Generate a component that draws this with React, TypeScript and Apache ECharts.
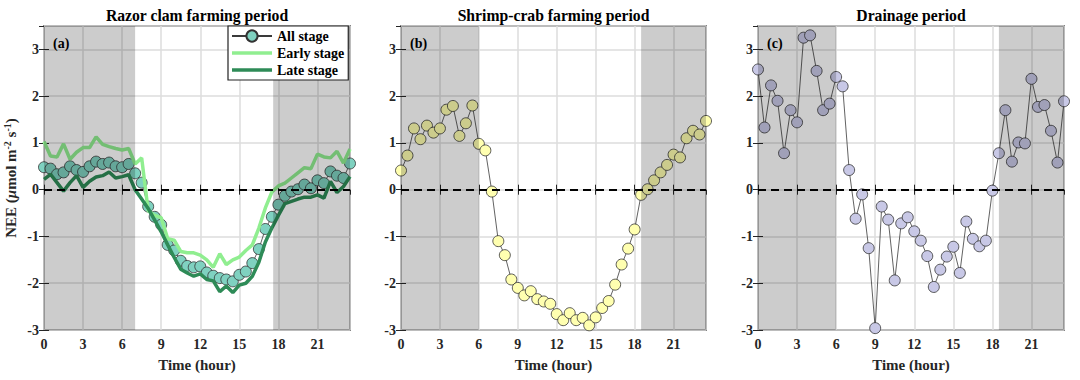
import React, { useEffect, useRef } from 'react';
import * as echarts from 'echarts';

const hours = [0, 0.5, 1, 1.5, 2, 2.5, 3, 3.5, 4, 4.5, 5, 5.5, 6, 6.5, 7, 7.5, 8, 8.5, 9, 9.5, 10, 10.5, 11, 11.5,
  12, 12.5, 13, 13.5, 14, 14.5, 15, 15.5, 16, 16.5, 17, 17.5, 18, 18.5, 19, 19.5, 20, 20.5, 21, 21.5, 22, 22.5, 23, 23.5];

const xTickLabels = [0, 3, 6, 9, 12, 15, 18, 21];
const yTickLabels = [-3, -2, -1, 0, 1, 2, 3];

const allA = [0.48, 0.45, 0.33, 0.37, 0.5, 0.42, 0.38, 0.5, 0.6, 0.55, 0.58, 0.5, 0.48, 0.55,
  0.35, 0.15, -0.36, -0.58, -0.75, -1.18, -1.3, -1.52, -1.63, -1.66,
  -1.64, -1.77, -1.84, -1.89, -1.92, -1.96, -1.82, -1.75, -1.57, -1.27, -0.84, -0.58,
  -0.32, -0.13, -0.04, 0.01, 0.11, 0.03, 0.2, 0.14, 0.39, 0.3, 0.25, 0.56];
const earlyA = [1.03, 0.72, 0.7, 0.98, 0.65, 0.8, 0.9, 0.9, 1.13, 0.97, 0.92, 0.88, 0.85, 0.88,
  0.55, 0.68, -0.45, -0.55, -0.6, -1.05, -1.08, -1.32, -1.35, -1.35,
  -1.4, -1.5, -1.66, -1.37, -1.6, -1.5, -1.44, -1.3, -1.18, -0.82, -0.39, -0.05,
  0.08, 0.14, 0.25, 0.36, 0.47, 0.45, 0.76, 0.7, 0.68, 0.82, 0.57, 0.87];
const lateA = [0.22, 0.33, 0.15, -0.03, 0.15, 0.3, 0.05, 0.18, 0.27, 0.3, 0.38, 0.25, 0.28, 0.32,
  0.0, -0.2, -0.4, -0.65, -0.9, -1.18, -1.45, -1.7, -1.78, -1.85,
  -1.8, -1.92, -1.95, -2.18, -2.06, -2.2, -2.04, -2.0, -1.85, -1.55, -1.12, -0.82,
  -0.55, -0.3, -0.25, -0.2, -0.16, -0.16, -0.11, -0.18, 0.18, -0.06, 0.07, 0.28];
const allB = [0.41, 0.73, 1.31, 1.08, 1.37, 1.22, 1.31, 1.71, 1.79, 1.15, 1.42, 1.8, 0.98, 0.84,
  -0.04, -1.1, -1.4, -1.92, -2.1, -2.26, -2.17, -2.34, -2.39, -2.44,
  -2.66, -2.79, -2.64, -2.79, -2.74, -2.9, -2.73, -2.53, -2.38, -2.03, -1.6, -1.26,
  -0.85, -0.11, 0.01, 0.2, 0.37, 0.53, 0.75, 0.69, 1.1, 1.26, 1.18, 1.47];
const allC = [2.57, 1.33, 2.23, 1.9, 0.78, 1.7, 1.44, 3.25, 3.3, 2.54, 1.7, 1.84, 2.41, 2.21,
  0.42, -0.62, -0.1, -1.25, -2.96, -0.36, -0.64, -1.94, -0.72, -0.59,
  -0.89, -1.09, -1.42, -2.08, -1.71, -1.43, -1.22, -1.78, -0.68, -1.05, -1.21, -1.09,
  -0.02, 0.78, 1.7, 0.6, 1.01, 0.99, 2.37, 1.77, 1.81, 1.26, 0.58, 1.89];

const nightA = [[0, 7], [17.6, 23.5]];
const nightB = [[0, 6], [18.5, 23.5]];
const nightC = [[0, 6], [18.5, 23.5]];

const panelTitles = ['Razor clam farming period', 'Shrimp-crab farming period', 'Drainage period'];
const panelLetters = ['(a)', '(b)', '(c)'];
const legendNames = ['All stage', 'Early stage', 'Late stage'];

const FONT = '"Liberation Serif", "Times New Roman", serif';
const INK = '#262626';
const X_MIN = 0, X_MAX = 23.5, Y_MIN = -3, Y_MAX = 3.5;
const BAR_ICON = 'path://M0,0H80V7H0Z';

const grids = [
  { left: 44, top: 26, width: 306, height: 304 },
  { left: 401, top: 26, width: 305, height: 304 },
  { left: 758, top: 26, width: 306, height: 304 },
];

const pair = (ys: number[]) => hours.map((h, i) => [h, ys[i]]);

export default function App() {
  const ref = useRef<HTMLDivElement>(null);
  useEffect(() => {
    if (!ref.current) return;
    const chart = echarts.init(ref.current, undefined, { renderer: 'svg' });

    const xAxes: any[] = [];
    const yAxes: any[] = [];
    grids.forEach((_, i) => {
      xAxes.push({
        gridIndex: i, type: 'value', min: X_MIN, max: X_MAX, interval: 3, position: 'bottom',
        name: 'Time (hour)', nameLocation: 'middle', nameGap: 27,
        nameTextStyle: { fontFamily: FONT, fontWeight: 'bold', fontSize: 15, color: INK },
        axisLine: { show: false },
        axisTick: { show: true, inside: true, length: 5, lineStyle: { color: INK, width: 1 } },
        axisLabel: {
          fontFamily: FONT, fontWeight: 'bold', fontSize: 14, color: INK, margin: 7, showMaxLabel: false,
          formatter: (v: number) => (xTickLabels.includes(v) ? String(v) : ''),
        },
        splitLine: { show: true, lineStyle: { color: '#dcdcdc', width: 1.5 } },
      });
    });
    grids.forEach((_, i) => {
      xAxes.push({
        gridIndex: i, type: 'value', min: X_MIN, max: X_MAX, interval: 3, position: 'top',
        axisLine: { show: false },
        axisTick: { show: true, inside: true, length: 5, lineStyle: { color: INK, width: 1 } },
        axisLabel: { show: false }, splitLine: { show: false },
      });
    });
    grids.forEach((_, i) => {
      yAxes.push({
        gridIndex: i, type: 'value', min: Y_MIN, max: Y_MAX, interval: 1, position: 'left',
        name: i === 0 ? '{a|NEE (}{i|μ}{a|mol m}{s|-2}{a| s}{s|-1}{a|)}' : '',
        nameLocation: 'middle', nameGap: 24, nameRotate: 90,
        nameTextStyle: {
          rich: {
            a: { fontFamily: FONT, fontWeight: 'bold', fontSize: 15, color: INK, lineHeight: 18 },
            i: { fontFamily: FONT, fontWeight: 'bold', fontStyle: 'italic', fontSize: 15, color: INK, lineHeight: 18 },
            s: { fontFamily: FONT, fontWeight: 'bold', fontSize: 10, color: INK, lineHeight: 18, verticalAlign: 'top' },
          },
        },
        axisLine: { show: false },
        axisTick: { show: true, inside: true, length: 5, lineStyle: { color: INK, width: 1 } },
        axisLabel: {
          fontFamily: FONT, fontWeight: 'bold', fontSize: 14, color: INK, margin: 5, showMaxLabel: false,
          formatter: (v: number) => (yTickLabels.includes(v) ? String(v) : ''),
        },
        splitLine: { show: true, lineStyle: { color: '#dcdcdc', width: 1.5 } },
      });
    });
    grids.forEach((_, i) => {
      yAxes.push({
        gridIndex: i, type: 'value', min: Y_MIN, max: Y_MAX, interval: 1, position: 'right',
        axisLine: { show: false },
        axisTick: { show: true, inside: true, length: 5, lineStyle: { color: INK, width: 1 } },
        axisLabel: { show: false }, splitLine: { show: false },
      });
    });

    const zeroLine = {
      silent: true, symbol: 'none', label: { show: false },
      lineStyle: { color: '#000', type: [8, 5], width: 2.2 },
      data: [{ yAxis: 0 }],
    };

    const markerSeries = (name: string, idx: number, ys: number[], fill: string) => ({
      name, type: 'line', xAxisIndex: idx, yAxisIndex: idx, data: pair(ys), z: 3,
      symbol: 'circle', symbolSize: 11, showSymbol: true,
      lineStyle: { color: '#3a3a3a', width: 0.8 },
      itemStyle: { color: fill, borderColor: '#333', borderWidth: 0.8 },
      markLine: zeroLine,
    });

    const nightSeries = (idx: number, data: number[][]) => ({
      type: 'custom', xAxisIndex: idx, yAxisIndex: idx, z: 6, silent: true,
      data, encode: { x: [0, 1] },
      renderItem: (_p: any, api: any) => {
        const a = api.coord([api.value(0), Y_MAX]);
        const b = api.coord([api.value(1), Y_MIN]);
        return {
          type: 'rect',
          shape: { x: a[0], y: a[1], width: b[0] - a[0], height: b[1] - a[1] },
          style: { fill: 'rgba(0,0,0,0.2)' },
        };
      },
    });

    const series: any[] = [
      markerSeries(legendNames[0], 0, allA, '#7fd1c0'),
      {
        name: legendNames[1], type: 'line', xAxisIndex: 0, yAxisIndex: 0, data: pair(earlyA), z: 4,
        symbol: 'none', lineStyle: { color: '#90ee90', width: 3.5 }, itemStyle: { color: '#90ee90' },
      },
      {
        name: legendNames[2], type: 'line', xAxisIndex: 0, yAxisIndex: 0, data: pair(lateA), z: 4,
        symbol: 'none', lineStyle: { color: '#2e8b57', width: 3.5 }, itemStyle: { color: '#2e8b57' },
      },
      markerSeries('Shrimp-crab', 1, allB, '#ffffb0'),
      markerSeries('Drainage', 2, allC, '#c8c8e6'),
      nightSeries(0, nightA),
      nightSeries(1, nightB),
      nightSeries(2, nightC),
    ];

    const graphic: any[] = [];
    grids.forEach((g, i) => {
      graphic.push({
        type: 'text', x: g.left + g.width / 2, y: 7, z: 20,
        style: { text: panelTitles[i], align: 'center', verticalAlign: 'top', fontFamily: FONT, fontWeight: 'bold', fontSize: 15.7, fill: '#000' },
      });
      graphic.push({
        type: 'text', x: g.left + 9, y: 36, z: 20,
        style: { text: panelLetters[i], align: 'left', verticalAlign: 'top', fontFamily: FONT, fontWeight: 'bold', fontSize: 14, fill: '#000' },
      });
    });

    chart.setOption({
      animation: false,
      grid: grids.map((g) => ({ ...g, show: true, borderColor: INK, borderWidth: 1.5, backgroundColor: 'transparent', containLabel: false })),
      xAxis: xAxes,
      yAxis: yAxes,
      legend: {
        data: [
          { name: legendNames[0] },
          { name: legendNames[1], icon: BAR_ICON },
          { name: legendNames[2], icon: BAR_ICON },
        ],
        orient: 'vertical', left: 228, top: 26, z: 20,
        backgroundColor: '#fff', borderColor: '#222', borderWidth: 1.2, borderRadius: 0,
        padding: [3, 4, 3, 3], itemWidth: 40, itemHeight: 14, itemGap: 3,
        textStyle: { fontFamily: FONT, fontWeight: 'bold', fontSize: 14, color: '#000' },
        selectedMode: false,
      },
      series,
      graphic,
    });
    return () => chart.dispose();
  }, []);
  return <div ref={ref} style={{ position: 'fixed', left: 0, top: 0, width: 1080, height: 380, background: '#fff' }} />;
}
